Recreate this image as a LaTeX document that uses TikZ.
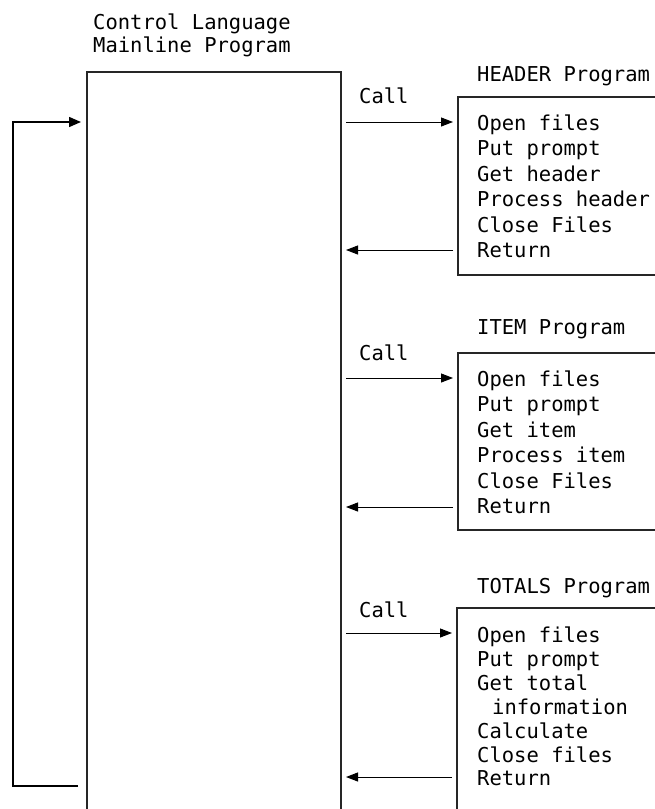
\documentclass[tikz,border=0pt]{standalone}
\usepackage{fontspec}
\setmonofont{DejaVu Sans Mono}
\usetikzlibrary{arrows.meta}
\begin{document}
\begin{tikzpicture}[x=1pt,y=-1pt,
  txt/.style={anchor=base west, inner sep=0pt, font=\fontsize{20.5}{24}\selectfont\ttfamily},
  frame/.style={line width=1.3pt, draw=black!85},
  conn/.style={line width=1pt, -{Triangle[length=12pt,width=9pt]}},
  loopline/.style={line width=1.5pt, -{Triangle[length=12pt,width=10pt]}}]
\useasboundingbox (0,0) rectangle (654,809);
% main program frame (open at bottom)
\draw[frame] (87,830) -- (87,72) -- (341,72) -- (341,830);
\node[txt] (t1) at (93,29) {Control Language};
\node[txt] (t2) at (93,52) {Mainline Program};
% sub-program frames (open to the right)
\draw[frame] (670,97) -- (458,97) -- (458,275) -- (670,275);
\draw[frame] (670,353) -- (458,353) -- (458,530) -- (670,530);
\draw[frame] (670,608) -- (457,608) -- (457,830);
% HEADER
\node[txt] (hT) at (477,81) {HEADER Program};
\node[txt] (hC) at (359,103) {Call};
\foreach \t [count=\i from 0] in {Open files,Put prompt,Get header,Process header,Close Files,Return}
  \node[txt] (h\i) at (477,130+25.5*\i) {\t};
% ITEM
\node[txt] (iT) at (477,334) {ITEM Program};
\node[txt] (iC) at (359,360) {Call};
\foreach \t [count=\i from 0] in {Open files,Put prompt,Get item,Process item,Close Files,Return}
  \node[txt] (i\i) at (477,386+25.5*\i) {\t};
% TOTALS
\node[txt] (tT) at (477,593) {TOTALS Program};
\node[txt] (tC) at (359,617) {Call};
\node[txt] (s0) at (477,642) {Open files};
\node[txt] (s1) at (477,666) {Put prompt};
\node[txt] (s2) at (477,690) {Get total};
\node[txt] (s3) at (492,714) {information};
\node[txt] (s4) at (477,738) {Calculate};
\node[txt] (s5) at (477,762) {Close files};
\node[txt] (s6) at (477,785) {Return};
% connector end points
\coordinate (hcA) at (346,122); \coordinate (hcB) at (453,122);
\coordinate (hrA) at (453,250); \coordinate (hrB) at (346,250);
\coordinate (icA) at (346,378); \coordinate (icB) at (453,378);
\coordinate (irA) at (453,507); \coordinate (irB) at (346,507);
\coordinate (tcA) at (346,633); \coordinate (tcB) at (452,633);
\coordinate (trA) at (452,777); \coordinate (trB) at (346,777);
\coordinate (lA) at (78,786); \coordinate (lB) at (13,786);
\coordinate (lC) at (13,122); \coordinate (lD) at (81,122);
\draw[conn] (hcA) -- (hcB);
\draw[conn] (hrA) -- (hrB);
\draw[conn] (icA) -- (icB);
\draw[conn] (irA) -- (irB);
\draw[conn] (tcA) -- (tcB);
\draw[conn] (trA) -- (trB);
\draw[loopline] (lA) -- (lB) -- (lC) -- (lD);
\end{tikzpicture}
\end{document}
